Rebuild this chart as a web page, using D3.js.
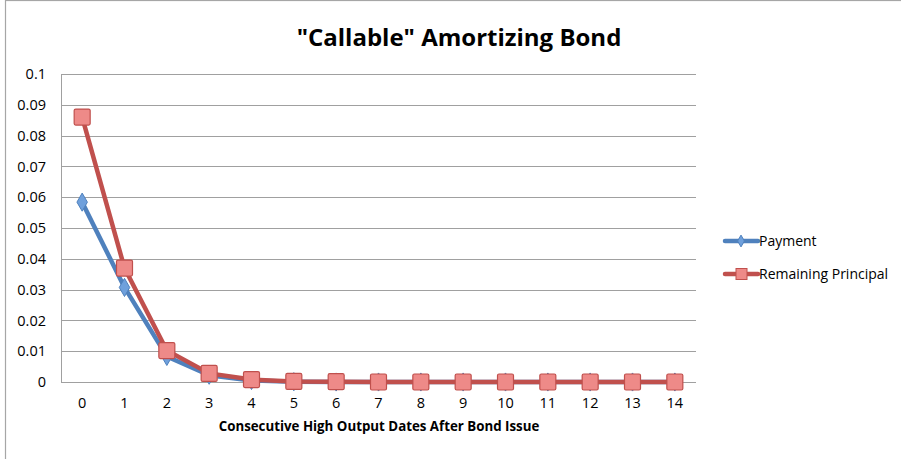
<!DOCTYPE html>
<html>
<head>
<meta charset="utf-8">
<script src="https://cdn.jsdelivr.net/npm/d3@7"></script>
<style>
  html, body { margin: 0; padding: 0; background: #fff; }
  svg { display: block; }
  text { font-family: "Open Sans", Arial, sans-serif; }
</style>
</head>
<body>
<svg id="chart" width="901" height="459"></svg>
<script>
// Chart data
const periods = [0, 1, 2, 3, 4, 5, 6, 7, 8, 9, 10, 11, 12, 13, 14];
const payment = [0.0584, 0.0307, 0.0083, 0.0022, 0.0005, 0.0001, 0, 0, 0, 0, 0, 0, 0, 0, 0];
const remainingPrincipal = [0.0860, 0.0370, 0.0102, 0.0028, 0.0008, 0.0002, 0.0001, 0, 0, 0, 0, 0, 0, 0, 0];
const yTicks = [0, 0.01, 0.02, 0.03, 0.04, 0.05, 0.06, 0.07, 0.08, 0.09, 0.1];
const seriesNames = ["Payment", "Remaining Principal"];

const svg = d3.select("#chart");
const W = 901, H = 459;
const plot = { left: 61, right: 696, top: 74, bottom: 382 };

// Outer chart frame
svg.append("rect")
  .attr("x", 5.5).attr("y", 0.5)
  .attr("width", W + 10).attr("height", H + 10)
  .attr("fill", "#fff").attr("stroke", "#a6a6a6").attr("stroke-width", 1.2);

const x = d3.scaleBand().domain(periods).range([plot.left, plot.right]);
const y = d3.scaleLinear().domain([0, 0.1]).range([plot.bottom, plot.top]);
const cx = d => x(d) + x.bandwidth() / 2;

// Horizontal gridlines
svg.append("g")
  .selectAll("line")
  .data(yTicks)
  .join("line")
  .attr("x1", plot.left).attr("x2", plot.right)
  .attr("y1", d => Math.round(y(d)) + 0.5).attr("y2", d => Math.round(y(d)) + 0.5)
  .attr("stroke", "#a0a0a0").attr("stroke-width", 1);

// Left axis line
svg.append("line")
  .attr("x1", plot.left + 0.5).attr("x2", plot.left + 0.5)
  .attr("y1", plot.top).attr("y2", plot.bottom)
  .attr("stroke", "#a0a0a0");

// Y axis labels
const yAxis = d3.axisLeft(y).tickValues(yTicks).tickSize(0).tickPadding(15)
  .tickFormat(d => d === 0 ? "0" : d3.format("")(+d.toFixed(2)));
const gy = svg.append("g").attr("transform", `translate(${plot.left},0)`).call(yAxis);
gy.select(".domain").remove();
gy.selectAll("text").attr("font-size", 14.5).attr("fill", "#000")
  .style("font-family", "'Open Sans', Arial, sans-serif");

// X axis labels
const xAxis = d3.axisBottom(x).tickSize(0).tickPadding(16);
const gx = svg.append("g").attr("transform", `translate(0,${plot.bottom})`).call(xAxis);
gx.select(".domain").remove();
gx.selectAll("text").attr("font-size", 14.5).attr("fill", "#000")
  .style("font-family", "'Open Sans', Arial, sans-serif");

// Titles
svg.append("text")
  .attr("x", 459).attr("y", 46)
  .attr("text-anchor", "middle")
  .attr("font-size", 24).attr("font-weight", "bold")
  .text('"Callable" Amortizing Bond');

svg.append("text")
  .attr("x", 379).attr("y", 431)
  .attr("text-anchor", "middle")
  .attr("font-size", 13.3).attr("font-weight", "bold")
  .text("Consecutive High Output Dates After Bond Issue");

const line = d3.line().x((d, i) => cx(periods[i])).y(d => y(d));

const blue = "#4f81bd", blueLight = "#6fa0dc";
const red = "#c0504d", redLight = "#ee8a88";

// Payment series (blue, diamond markers)
svg.append("path").datum(payment)
  .attr("d", line).attr("fill", "none")
  .attr("stroke", blue).attr("stroke-width", 4.5).attr("stroke-linejoin", "round");

// Remaining principal series (red, square markers)
svg.append("path").datum(remainingPrincipal)
  .attr("d", line).attr("fill", "none")
  .attr("stroke", red).attr("stroke-width", 4.5).attr("stroke-linejoin", "round");

const diamond = d3.symbol().type(d3.symbolDiamond).size(95);
svg.append("g").selectAll("path")
  .data(payment)
  .join("path")
  .attr("d", diamond)
  .attr("transform", (d, i) => `translate(${cx(periods[i])},${y(d)})`)
  .attr("fill", blueLight).attr("stroke", blue).attr("stroke-width", 1);

svg.append("g").selectAll("rect")
  .data(remainingPrincipal)
  .join("rect")
  .attr("x", (d, i) => cx(periods[i]) - 8)
  .attr("y", d => y(d) - 8)
  .attr("width", 16).attr("height", 16)
  .attr("rx", 1.5)
  .attr("fill", redLight).attr("stroke", red).attr("stroke-width", 1.2);

// Legend
const legend = svg.append("g");
const legendRows = [
  { name: seriesNames[0], color: blue, fill: blueLight, shape: "diamond", y: 241 },
  { name: seriesNames[1], color: red, fill: redLight, shape: "square", y: 274 }
];
legendRows.forEach(r => {
  legend.append("line")
    .attr("x1", 725).attr("x2", 758).attr("y1", r.y).attr("y2", r.y)
    .attr("stroke", r.color).attr("stroke-width", 4.5).attr("stroke-linecap", "round");
  if (r.shape === "diamond") {
    legend.append("path").attr("d", d3.symbol().type(d3.symbolDiamond).size(40)())
      .attr("transform", `translate(741,${r.y})`)
      .attr("fill", r.fill).attr("stroke", r.color);
  } else {
    legend.append("rect").attr("x", 736).attr("y", r.y - 5.5).attr("width", 11).attr("height", 11)
      .attr("fill", r.fill).attr("stroke", r.color);
  }
  legend.append("text").attr("x", 759).attr("y", r.y + 5)
    .attr("font-size", 14).text(r.name);
});
</script>
</body>
</html>
